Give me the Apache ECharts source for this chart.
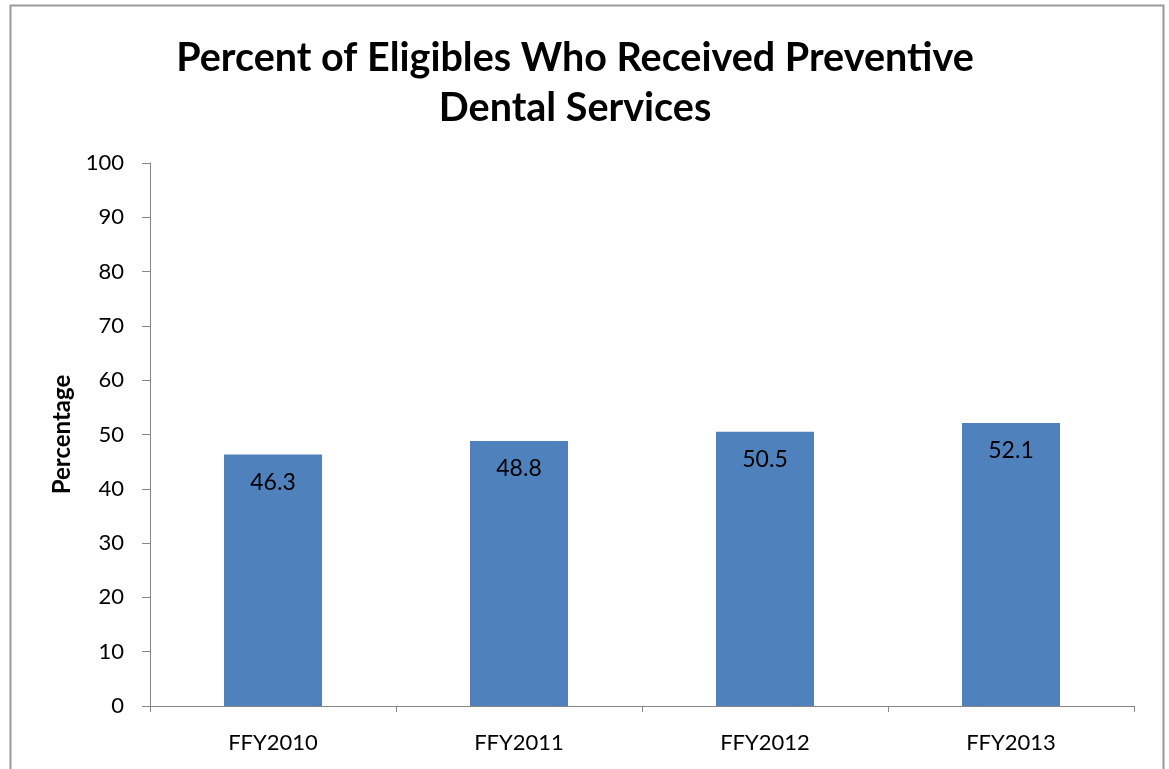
<!DOCTYPE html>
<html><head><meta charset="utf-8">
<script src="https://cdn.jsdelivr.net/npm/echarts@6/dist/echarts.min.js"></script>
<style>html,body{margin:0;padding:0;background:#fff}#c{width:1169px;height:769px}</style>
</head><body><div id="c"></div>
<script>
const categories = ['FFY2010','FFY2011','FFY2012','FFY2013'];
const values = [46.3, 48.8, 50.5, 52.1];
const yTicks = [0,10,20,30,40,50,60,70,80,90,100];
const titleText = 'Percent of Eligibles Who Received Preventive\nDental Services';
const yAxisName = 'Percentage';

const chart = echarts.init(document.getElementById('c'));
const FONT = 'Lato';
chart.setOption({
  animation: false,
  backgroundColor: '#fff',
  graphic: [{type:'rect', shape:{x:10.5,y:5.5,width:1153,height:820}, style:{fill:'none', stroke:'#999', lineWidth:2}, silent:true}],
  title: {
    text: titleText, left: 570, textAlign: 'center', top: 28,
    textStyle: {fontFamily: FONT, fontWeight: 'bold', fontSize: 39.5, color: '#000', lineHeight: 50}
  },
  grid: {left: 150, right: 35, top: 163, bottom: 63},
  xAxis: {
    type: 'category', data: categories,
    axisLine: {lineStyle: {color: '#868686', width: 1}},
    axisTick: {show: true, length: 6, lineStyle: {color: '#868686'}},
    axisLabel: {fontFamily: FONT, fontSize: 22, color: '#000', margin: 26}
  },
  yAxis: {
    type: 'value', min: yTicks[0], max: yTicks[yTicks.length-1], interval: 10,
    name: yAxisName, nameLocation: 'middle', nameGap: 76, nameRotate: 90,
    nameTextStyle: {fontFamily: FONT, fontWeight: 'bold', fontSize: 24, color: '#000'},
    axisLine: {show: true, lineStyle: {color: '#868686', width: 1}},
    axisTick: {show: true, length: 8, lineStyle: {color: '#868686'}},
    splitLine: {show: false},
    axisLabel: {fontFamily: FONT, fontSize: 22, color: '#000', margin: 26}
  },
  series: [{
    type: 'bar', data: values, barWidth: 98,
    itemStyle: {color: '#4F81BD'},
    label: {show: true, position: 'insideTop', distance: 16, fontFamily: FONT, fontSize: 23, color: '#000', formatter: p => p.value.toFixed(1)}
  }]
});
</script></body></html>
